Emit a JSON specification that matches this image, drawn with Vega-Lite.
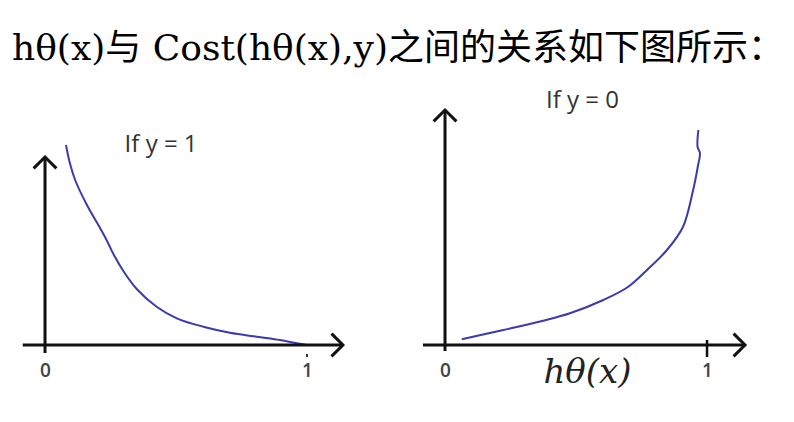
{
  "$schema": "https://vega.github.io/schema/vega-lite/v6.json",
  "padding": {"left": 12, "top": 31, "right": 22, "bottom": 0},
  "background": "white",
  "title": {
    "text": "hθ(x)与 Cost(hθ(x),y)之间的关系如下图所示：",
    "anchor": "start",
    "font": "DejaVu Serif, Noto Sans CJK SC",
    "fontSize": 36,
    "fontWeight": "normal",
    "color": "#000000",
    "limit": 0,
    "offset": 17
  },
  "config": {
    "view": {"stroke": null},
    "axis": {"grid": false}
  },
  "datasets": {
    "anchor": [{}],
    "costY1": [
      {"i": 1, "h": 0.080, "cost": 2.000},
      {"i": 2, "h": 0.095, "cost": 1.817},
      {"i": 3, "h": 0.115, "cost": 1.650},
      {"i": 4, "h": 0.160, "cost": 1.400},
      {"i": 5, "h": 0.210, "cost": 1.170},
      {"i": 6, "h": 0.235, "cost": 1.050},
      {"i": 7, "h": 0.263, "cost": 0.900},
      {"i": 8, "h": 0.299, "cost": 0.740},
      {"i": 9, "h": 0.350, "cost": 0.560},
      {"i": 10, "h": 0.426, "cost": 0.383},
      {"i": 11, "h": 0.503, "cost": 0.267},
      {"i": 12, "h": 0.604, "cost": 0.183},
      {"i": 13, "h": 0.706, "cost": 0.123},
      {"i": 14, "h": 0.808, "cost": 0.083},
      {"i": 15, "h": 0.897, "cost": 0.050},
      {"i": 16, "h": 0.961, "cost": 0.017},
      {"i": 17, "h": 1.000, "cost": 0.000}
    ],
    "costY0": [
      {"i": 1, "h": 0.064, "cost": 0.057},
      {"i": 2, "h": 0.223, "cost": 0.150},
      {"i": 3, "h": 0.375, "cost": 0.243},
      {"i": 4, "h": 0.477, "cost": 0.317},
      {"i": 5, "h": 0.604, "cost": 0.450},
      {"i": 6, "h": 0.698, "cost": 0.580},
      {"i": 7, "h": 0.771, "cost": 0.750},
      {"i": 8, "h": 0.847, "cost": 0.950},
      {"i": 9, "h": 0.908, "cost": 1.180},
      {"i": 10, "h": 0.947, "cost": 1.550},
      {"i": 11, "h": 0.966, "cost": 1.800},
      {"i": 12, "h": 0.973, "cost": 1.920},
      {"i": 13, "h": 0.964, "cost": 1.980},
      {"i": 14, "h": 0.967, "cost": 2.150}
    ]
  },
  "spacing": 40,
  "hconcat": [
    {
      "width": 360,
      "height": 275,
      "layer": [
        {
          "data": {"name": "costY1"},
          "mark": {"type": "line", "color": "#3b3bab", "strokeWidth": 2, "interpolate": "catmull-rom"},
          "encoding": {
            "x": {
              "field": "h", "type": "quantitative",
              "scale": {"domain": [-0.126, 1.248], "zero": false, "nice": false},
              "axis": {"values": [0, 1], "format": "d", "domain": false, "ticks": false, "labelPadding": 1, "labelFont": "Open Sans", "labelFontSize": 19, "labelFontWeight": 600, "labelColor": "#444444", "title": null}
            },
            "y": {"field": "cost", "type": "quantitative", "scale": {"domain": [-0.15, 2.6], "zero": false, "nice": false}, "axis": null},
            "order": {"field": "i", "type": "quantitative"}
          }
        },
        {
          "data": {"name": "anchor"},
          "mark": {"type": "rule", "color": "#111111", "strokeWidth": 3},
          "encoding": {
            "x": {"datum": -0.085, "type": "quantitative"},
            "x2": {"datum": 1.13},
            "y": {"datum": 0, "type": "quantitative"}
          }
        },
        {
          "data": {"name": "anchor"},
          "mark": {"type": "rule", "color": "#111111", "strokeWidth": 3},
          "encoding": {
            "x": {"datum": 0, "type": "quantitative"},
            "y": {"datum": -0.08, "type": "quantitative"},
            "y2": {"datum": 1.87}
          }
        },
        {
          "data": {"name": "anchor"},
          "mark": {"type": "rule", "color": "#333333", "strokeWidth": 2},
          "encoding": {
            "x": {"datum": 1, "type": "quantitative"},
            "y": {"datum": -0.09, "type": "quantitative"},
            "y2": {"datum": -0.12}
          }
        },
        {
          "data": {"name": "anchor"},
          "mark": {"type": "point", "shape": "M-1,-1L0,0L-1,1", "filled": false, "stroke": "#111111", "strokeWidth": 3, "size": 520, "opacity": 1},
          "encoding": {
            "x": {"datum": 1.137, "type": "quantitative"},
            "y": {"datum": 0, "type": "quantitative"}
          }
        },
        {
          "data": {"name": "anchor"},
          "mark": {"type": "point", "shape": "M-1,1L0,0L1,1", "filled": false, "stroke": "#111111", "strokeWidth": 3, "size": 520, "opacity": 1},
          "encoding": {
            "x": {"datum": 0, "type": "quantitative"},
            "y": {"datum": 1.88, "type": "quantitative"}
          }
        },
        {
          "data": {"name": "anchor"},
          "mark": {"type": "text", "font": "Open Sans", "fontSize": 24, "color": "#333333", "align": "center", "baseline": "middle"},
          "encoding": {
            "x": {"datum": 0.443, "type": "quantitative"},
            "y": {"datum": 2.0, "type": "quantitative"},
            "text": {"value": "If y = 1"}
          }
        }
      ]
    },
    {
      "width": 360,
      "height": 275,
      "layer": [
        {
          "data": {"name": "costY0"},
          "mark": {"type": "line", "color": "#3b3bab", "strokeWidth": 2, "interpolate": "catmull-rom"},
          "encoding": {
            "x": {
              "field": "h", "type": "quantitative",
              "scale": {"domain": [-0.126, 1.248], "zero": false, "nice": false},
              "axis": {
                "values": [0, 1], "format": "d", "domain": false, "ticks": false, "labelPadding": 1,
                "labelFont": "Open Sans", "labelFontSize": 19, "labelFontWeight": 600, "labelColor": "#444444",
                "title": "hθ(x)", "titleFont": "DejaVu Serif", "titleFontStyle": "italic", "titleFontWeight": "normal",
                "titleFontSize": 34, "titleColor": "#222222", "titleX": 175, "titleY": 12, "titleAlign": "center", "titleBaseline": "middle"
              }
            },
            "y": {"field": "cost", "type": "quantitative", "scale": {"domain": [-0.15, 2.6], "zero": false, "nice": false}, "axis": null},
            "order": {"field": "i", "type": "quantitative"}
          }
        },
        {
          "data": {"name": "anchor"},
          "mark": {"type": "rule", "color": "#111111", "strokeWidth": 3},
          "encoding": {
            "x": {"datum": -0.084, "type": "quantitative"},
            "x2": {"datum": 1.14},
            "y": {"datum": 0, "type": "quantitative"}
          }
        },
        {
          "data": {"name": "anchor"},
          "mark": {"type": "rule", "color": "#111111", "strokeWidth": 3},
          "encoding": {
            "x": {"datum": 0, "type": "quantitative"},
            "y": {"datum": -0.06, "type": "quantitative"},
            "y2": {"datum": 2.34}
          }
        },
        {
          "data": {"name": "anchor"},
          "mark": {"type": "rule", "color": "#111111", "strokeWidth": 2.5},
          "encoding": {
            "x": {"datum": 1, "type": "quantitative"},
            "y": {"datum": 0.05, "type": "quantitative"},
            "y2": {"datum": -0.12}
          }
        },
        {
          "data": {"name": "anchor"},
          "mark": {"type": "point", "shape": "M-1,-1L0,0L-1,1", "filled": false, "stroke": "#111111", "strokeWidth": 3, "size": 520, "opacity": 1},
          "encoding": {
            "x": {"datum": 1.145, "type": "quantitative"},
            "y": {"datum": 0, "type": "quantitative"}
          }
        },
        {
          "data": {"name": "anchor"},
          "mark": {"type": "point", "shape": "M-1,1L0,0L1,1", "filled": false, "stroke": "#111111", "strokeWidth": 3, "size": 520, "opacity": 1},
          "encoding": {
            "x": {"datum": 0, "type": "quantitative"},
            "y": {"datum": 2.35, "type": "quantitative"}
          }
        },
        {
          "data": {"name": "anchor"},
          "mark": {"type": "text", "font": "Open Sans", "fontSize": 24, "color": "#333333", "align": "center", "baseline": "middle"},
          "encoding": {
            "x": {"datum": 0.525, "type": "quantitative"},
            "y": {"datum": 2.44, "type": "quantitative"},
            "text": {"value": "If y = 0"}
          }
        }
      ]
    }
  ]
}
